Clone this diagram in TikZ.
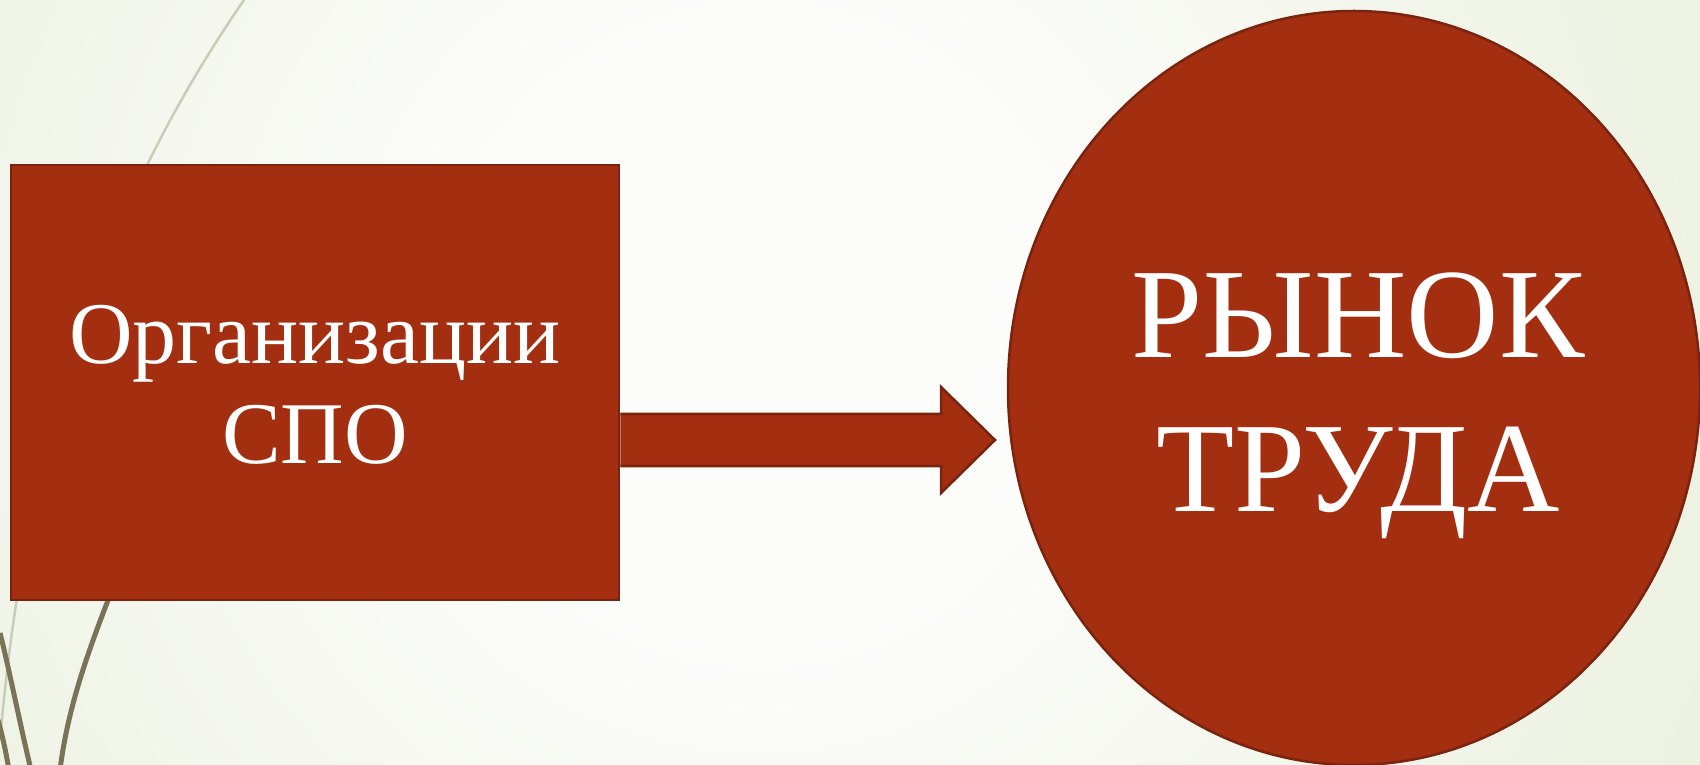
\documentclass[tikz,border=0pt]{standalone}
\usepackage{fontspec}
\setmainfont{Liberation Serif}
\usetikzlibrary{shapes.geometric,calc}
\definecolor{bgedge}{RGB}{224,233,205}
\definecolor{bgmid}{RGB}{252,252,250}
\definecolor{brick}{RGB}{163,46,16}
\definecolor{brickdark}{RGB}{122,36,15}
\definecolor{olive}{RGB}{122,115,88}
\definecolor{lightline}{RGB}{200,205,186}
\pgfdeclareradialshading{bgglow}{\pgfpoint{0bp}{0bp}}{%
  color(0bp)=(bgmid); color(5bp)=(bgmid); color(25bp)=(bgedge); color(50bp)=(bgedge)}
\tikzset{
  shapebox/.style={draw=brickdark, line width=2.5pt, fill=brick, text=white, align=center},
  deco/.style={olive, line width=5pt},
  decolight/.style={lightline, line width=2.5pt},
}
\begin{document}
\begin{tikzpicture}[x=1pt,y=1pt]
\useasboundingbox (0,0) rectangle (1700,764);
\begin{scope}
\clip (0,0) rectangle (1700,764);
\fill[bgedge] (0,0) rectangle (1700,764);
\shade[shading=bgglow] (760,430) circle (1550);
% decorative lines
\draw[decolight] (244,764) .. controls (120,584) and (30,364) .. (0,24);
\draw[deco] (140,244) .. controls (100,144) and (70,74) .. (60,-6);
\draw[deco] (0,131) .. controls (8,100) and (20,40) .. (31,-6);
\draw[deco] (-2,44) .. controls (2,30) and (6,12) .. (9,-6);
\end{scope}
% main shapes
\node[shapebox, minimum width=608pt, minimum height=435pt, inner sep=0pt] (box) at (315,381.5) {};
\node[text=white, align=center, font=\fontsize{88}{100}\selectfont] (boxtext) at ($(box.center)+(0,-2)$) {Организации\\СПО};
\node[shapebox, ellipse, minimum width=692pt, minimum height=754pt, inner sep=0pt] (circ) at (1354,376) {};
\node[text=white, align=center, font=\fontsize{128}{154}\selectfont] (circtext) at ($(circ.center)+(4,-18)$) {РЫНОК\\ТРУДА};
% block arrow from box to circle
\coordinate (s) at (box.east |- 0,324);
\coordinate (t) at (995,324);
\draw[draw=brickdark, line width=2.5pt, fill=brick, line join=miter]
  ($(s)+(0,26)$) -- (941,350) -- (941,377) -- (t) -- (941,271) -- (941,298) -- ($(s)+(0,-26)$);
\end{tikzpicture}
\end{document}
